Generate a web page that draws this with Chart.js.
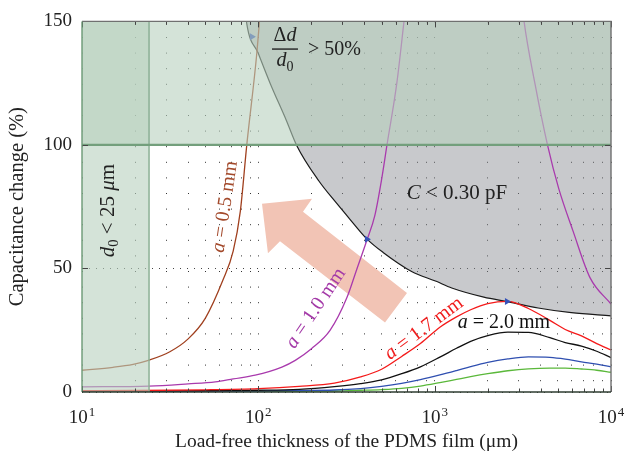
<!DOCTYPE html>
<html lang="en">
<head>
  <meta charset="UTF-8" />
  <title>Capacitance change vs PDMS film thickness</title>
  <script src="https://cdn.jsdelivr.net/npm/chart.js"></script>
  <style>
    html, body { margin: 0; padding: 0; background: #fff; }
  </style>
</head>
<body>
<canvas id="capChart" width="627" height="461"></canvas>

<script>
// ---- data (x in μm, y in %) ----
const thickness = [10, 20, 50, 100, 170, 270, 380, 500, 650, 830, 1070, 1330, 1600, 2000, 2600, 3400, 4500, 5500, 6800, 8300, 10000];
const a17 = [0.5, 0.6, 0.9, 1.4, 2.3, 3.6, 6.1, 9.2, 14.4, 19.6, 26.2, 30.4, 33.3, 35.8, 36.7, 33.8, 29.0, 25.3, 22.7, 19.6, 17.0];
const a20 = [0.3, 0.35, 0.5, 0.7, 1.1, 2.2, 3.4, 4.9, 7.4, 10.2, 14.1, 17.7, 20.5, 22.8, 24.2, 24.1, 22.0, 20.0, 18.6, 16.5, 13.9];
const blueCurve = [0.2, 0.25, 0.3, 0.4, 0.6, 0.8, 1.4, 2.3, 3.5, 5.0, 6.9, 8.7, 10.3, 12.0, 13.4, 14.2, 14.0, 13.3, 12.2, 11.3, 10.2];
const greenCurve = [0.1, 0.1, 0.15, 0.2, 0.3, 0.4, 0.7, 1.0, 1.5, 2.4, 3.8, 5.1, 6.2, 7.4, 8.6, 9.4, 9.7, 9.7, 9.3, 8.8, 8.0];

const a05X = [10, 15, 19.5, 23.8, 31.5, 40, 50, 63, 72, 79, 86, 98, 103];
const a05Y = [8.8, 10.0, 11.2, 12.8, 16.3, 21.5, 29.8, 45.3, 57, 73, 100, 137, 156];

const a10X = [10, 24, 40, 57, 72, 96, 136, 162, 200, 255, 318, 361, 413, 458, 500, 536, 610, 670, 700, 1500, 3100, 3213, 3700, 4370, 5050, 6100, 7600, 10000];
const a10Y = [2.1, 2.4, 3.3, 4.1, 5.3, 6.8, 10.1, 12.8, 17.5, 24.9, 38.2, 49.5, 61.5, 71.5, 86, 99.8, 125, 150, 162, null, 160, 150, 125, 99.8, 82.4, 65, 46.3, 35.6];

// C = 0.30 pF limit
const limitX = [84, 86, 100, 116.6, 144, 165, 220, 277, 330, 412, 510, 740, 1020, 1250, 1900, 2620, 3860, 5960, 10000];
const limitY = [156, 149, 137, 125, 110, 99.8, 85.5, 76.5, 70, 62, 56.5, 48.8, 44.8, 42.1, 38.4, 36.5, 34, 32.1, 30.8];

const touchX = [92, 413, 2570];
const touchY = [143.8, 61.8, 36.6];

const d0Limit = 24;       // d0 < 25 μm band
const strainLimit = 100;  // Δd/d0 > 50 % band

const xTickValues = [10, 20, 30, 40, 50, 60, 70, 80, 90, 100, 200, 300, 400, 500, 600, 700, 800, 900,
                     1000, 2000, 3000, 4000, 5000, 6000, 7000, 8000, 9000, 10000];
const xMajor = [10, 100, 1000, 10000];
const xMajorExp = ['1', '2', '3', '4'];
const yTickValues = [0, 50, 100, 150];

// pink arrow outline (data coords)
const arrowX = [104.9, 201.6, 179.2, 696.8, 522.9, 132.7, 113.4];
const arrowY = [76.2, 78.2, 73.0, 40.1, 28.1, 61.0, 56.2];

const serif = '"Liberation Serif", "Times New Roman", serif';
const pts = (xs, ys) => xs.map((x, i) => ({ x, y: ys[i] }));

function richText(ctx, parts, size, color) {
  // parts: [text, italic, sub]; drawn centred on (0,0)
  const fonts = parts.map(p => (p[1] ? 'italic ' : '') + (p[2] ? size * 0.7 : size) + 'px ' + serif);
  let w = 0;
  const widths = parts.map((p, i) => { ctx.font = fonts[i]; const m = ctx.measureText(p[0]).width; w += m; return m; });
  let cx = -w / 2;
  ctx.fillStyle = color;
  ctx.textBaseline = 'middle';
  ctx.textAlign = 'left';
  parts.forEach((p, i) => {
    ctx.font = fonts[i];
    ctx.fillText(p[0], cx, p[2] ? size * 0.3 : 0);
    cx += widths[i];
  });
  return w;
}

const decor = {
  id: 'decor',
  beforeDatasetsDraw(chart) {
    const { ctx, scales: { x, y } } = chart;
    ctx.save();
    ctx.beginPath();
    arrowX.forEach((vx, i) => {
      const px = x.getPixelForValue(vx), py = y.getPixelForValue(arrowY[i]);
      i ? ctx.lineTo(px, py) : ctx.moveTo(px, py);
    });
    ctx.closePath();
    ctx.fillStyle = '#f2c4b5';
    ctx.fill();
    ctx.restore();
  },
  afterDraw(chart) {
    const { ctx, chartArea: a, scales: { x, y } } = chart;
    ctx.save();

    // inward ticks
    ctx.strokeStyle = '#444';
    ctx.lineWidth = 1;
    xTickValues.forEach(v => {
      const px = Math.round(x.getPixelForValue(v)) + 0.5;
      const len = xMajor.includes(v) ? 6 : 3.5;
      ctx.beginPath();
      ctx.moveTo(px, a.bottom); ctx.lineTo(px, a.bottom - len);
      ctx.moveTo(px, a.top); ctx.lineTo(px, a.top + len);
      ctx.stroke();
    });
    [50, 100].forEach(v => {
      const py = Math.round(y.getPixelForValue(v)) + 0.5;
      ctx.beginPath();
      ctx.moveTo(a.left, py); ctx.lineTo(a.left + 6, py);
      ctx.moveTo(a.right, py); ctx.lineTo(a.right - 6, py);
      ctx.stroke();
    });

    // frame
    ctx.lineWidth = 1.4;
    ctx.strokeStyle = '#707070';
    ctx.beginPath();
    ctx.moveTo(a.left, a.top); ctx.lineTo(a.right, a.top); ctx.lineTo(a.right, a.bottom);
    ctx.stroke();
    ctx.strokeStyle = '#6b9975';
    ctx.beginPath(); ctx.moveTo(a.left, a.top); ctx.lineTo(a.left, a.bottom); ctx.stroke();
    ctx.strokeStyle = '#2e3d31';
    ctx.beginPath(); ctx.moveTo(a.left, a.bottom); ctx.lineTo(a.right, a.bottom); ctx.stroke();

    // x tick labels 10^n
    ctx.fillStyle = '#222';
    ctx.textBaseline = 'alphabetic';
    xMajor.forEach((v, i) => {
      const px = x.getPixelForValue(v);
      ctx.font = '19px ' + serif;
      const wb = ctx.measureText('10').width;
      ctx.font = '13px ' + serif;
      const we = ctx.measureText(xMajorExp[i]).width;
      const left = px - (wb + we + 1) / 2;
      ctx.font = '19px ' + serif;
      ctx.textAlign = 'left';
      ctx.fillText('10', left, a.bottom + 31);
      ctx.font = '13px ' + serif;
      ctx.fillText(xMajorExp[i], left + wb + 1, a.bottom + 24);
    });

    const place = (parts, vx, vy, deg, size, color) => {
      ctx.save();
      ctx.translate(x.getPixelForValue(vx), y.getPixelForValue(vy));
      ctx.rotate(deg * Math.PI / 180);
      richText(ctx, parts, size, color);
      ctx.restore();
    };

    place([['a', 1], [' = 0.5 mm']], 64.7, 75, -81.6, 20, '#a34a2c');
    place([['a', 1], [' = 1.0 mm']], 212, 33.9, -56, 20, '#a43aa8');
    place([['a', 1], [' = 1.7 mm']], 870, 25.7, -36.7, 20, '#f01c1c');
    place([['a', 1], [' = 2.0 mm']], 2472, 28.1, 0, 20, '#111');
    place([['C', 1], [' < 0.30 pF']], 1339, 80.2, 0, 21, '#222');
    place([['d', 1], ['0', 0, 1], [' < 25 '], ['μ', 1], ['m']], 14.1, 73.4, -90, 21, '#222');

    // Δd / d0 > 50%
    const fx = x.getPixelForValue(141.6), fy = y.getPixelForValue(138.8);
    ctx.save();
    ctx.translate(fx, fy - 13); richText(ctx, [['Δ'], ['d', 1]], 20, '#222'); ctx.restore();
    ctx.save();
    ctx.translate(fx, fy + 12); richText(ctx, [['d', 1], ['0', 0, 1]], 20, '#222'); ctx.restore();
    ctx.strokeStyle = '#222'; ctx.lineWidth = 1.4;
    ctx.beginPath(); ctx.moveTo(fx - 13, fy); ctx.lineTo(fx + 13, fy); ctx.stroke();
    ctx.font = '20px ' + serif; ctx.textAlign = 'left'; ctx.textBaseline = 'middle';
    ctx.fillText('> 50%', fx + 23, fy + 1);

    ctx.restore();
  }
};

const curve = (data, color, order) => ({
  data, borderColor: color, borderWidth: 1.3, pointRadius: 0, fill: false,
  cubicInterpolationMode: 'monotone', spanGaps: false, order
});

new Chart(document.getElementById('capChart'), {
  type: 'line',
  data: {
    datasets: [
      // green band borders
      { data: [{ x: 10, y: strainLimit }, { x: 10000, y: strainLimit }], borderColor: '#739f7c', borderWidth: 2.2, pointRadius: 0, order: 0 },
      { data: [{ x: d0Limit, y: 0 }, { x: d0Limit, y: 150 }], borderColor: '#8cb095', borderWidth: 1.5, pointRadius: 0, order: 0 },
      // green translucent bands
      { data: [{ x: 10, y: 150 }, { x: 10000, y: 150 }], fill: { value: strainLimit }, backgroundColor: 'rgba(183,208,190,0.6)', borderWidth: 0, pointRadius: 0, order: 1 },
      { data: [{ x: 10, y: 150 }, { x: d0Limit, y: 150 }], fill: 'origin', backgroundColor: 'rgba(183,208,190,0.6)', borderWidth: 0, pointRadius: 0, order: 1 },
      // touch points
      { data: pts(touchX, touchY), showLine: false, pointStyle: 'triangle', rotation: 90, pointRadius: 4,
        backgroundColor: '#3552b8', borderColor: '#3552b8', borderWidth: 0, order: 2 },
      curve(pts(a05X, a05Y), '#a0401f', 3),
      curve(pts(a10X, a10Y), '#a93aad', 3),
      curve(pts(thickness, a17), '#f41a1a', 3),
      curve(pts(thickness, a20), '#111111', 3),
      curve(pts(thickness, blueCurve), '#2f4fb0', 3),
      curve(pts(thickness, greenCurve), '#5ab83a', 3),
      // C < 0.30 pF region
      { data: pts(limitX, limitY), borderColor: '#1a1a1a', borderWidth: 1.2, pointRadius: 0,
        fill: 'end', backgroundColor: 'rgba(133,135,142,0.45)', cubicInterpolationMode: 'monotone', order: 4 }
    ]
  },
  options: {
    responsive: false,
    animation: false,
    events: [],
    layout: { padding: { top: 18, right: 16, left: 0, bottom: 0 } },
    plugins: { legend: { display: false }, tooltip: { enabled: false } },
    scales: {
      x: {
        type: 'logarithmic',
        min: 10, max: 10000,
        afterBuildTicks: s => { s.ticks = xTickValues.map(v => ({ value: v })); },
        afterFit: s => { s.height = 69; },
        ticks: { display: false },
        grid: { color: '#333', lineWidth: 1, drawTicks: false },
        border: { display: false, dash: [1, 14.6] },
        title: { display: true, text: 'Load-free thickness of the PDMS film (μm)', color: '#222',
                 font: { family: serif, size: 19.5 }, padding: { top: 0, bottom: 7 } }
      },
      y: {
        min: 0, max: 150,
        afterBuildTicks: s => { s.ticks = yTickValues.map(v => ({ value: v })); },
        afterFit: s => { s.width = 82; },
        ticks: { color: '#222', padding: 10, font: { family: serif, size: 19 } },
        grid: { color: '#444', lineWidth: 1, drawTicks: false },
        border: { display: false, dash: [1, 6] },
        title: { display: true, text: 'Capacitance change (%)', color: '#222',
                 font: { family: serif, size: 20.5 }, padding: { top: 5, bottom: 0 } }
      }
    }
  },
  plugins: [decor]
});
</script>
</body>
</html>
